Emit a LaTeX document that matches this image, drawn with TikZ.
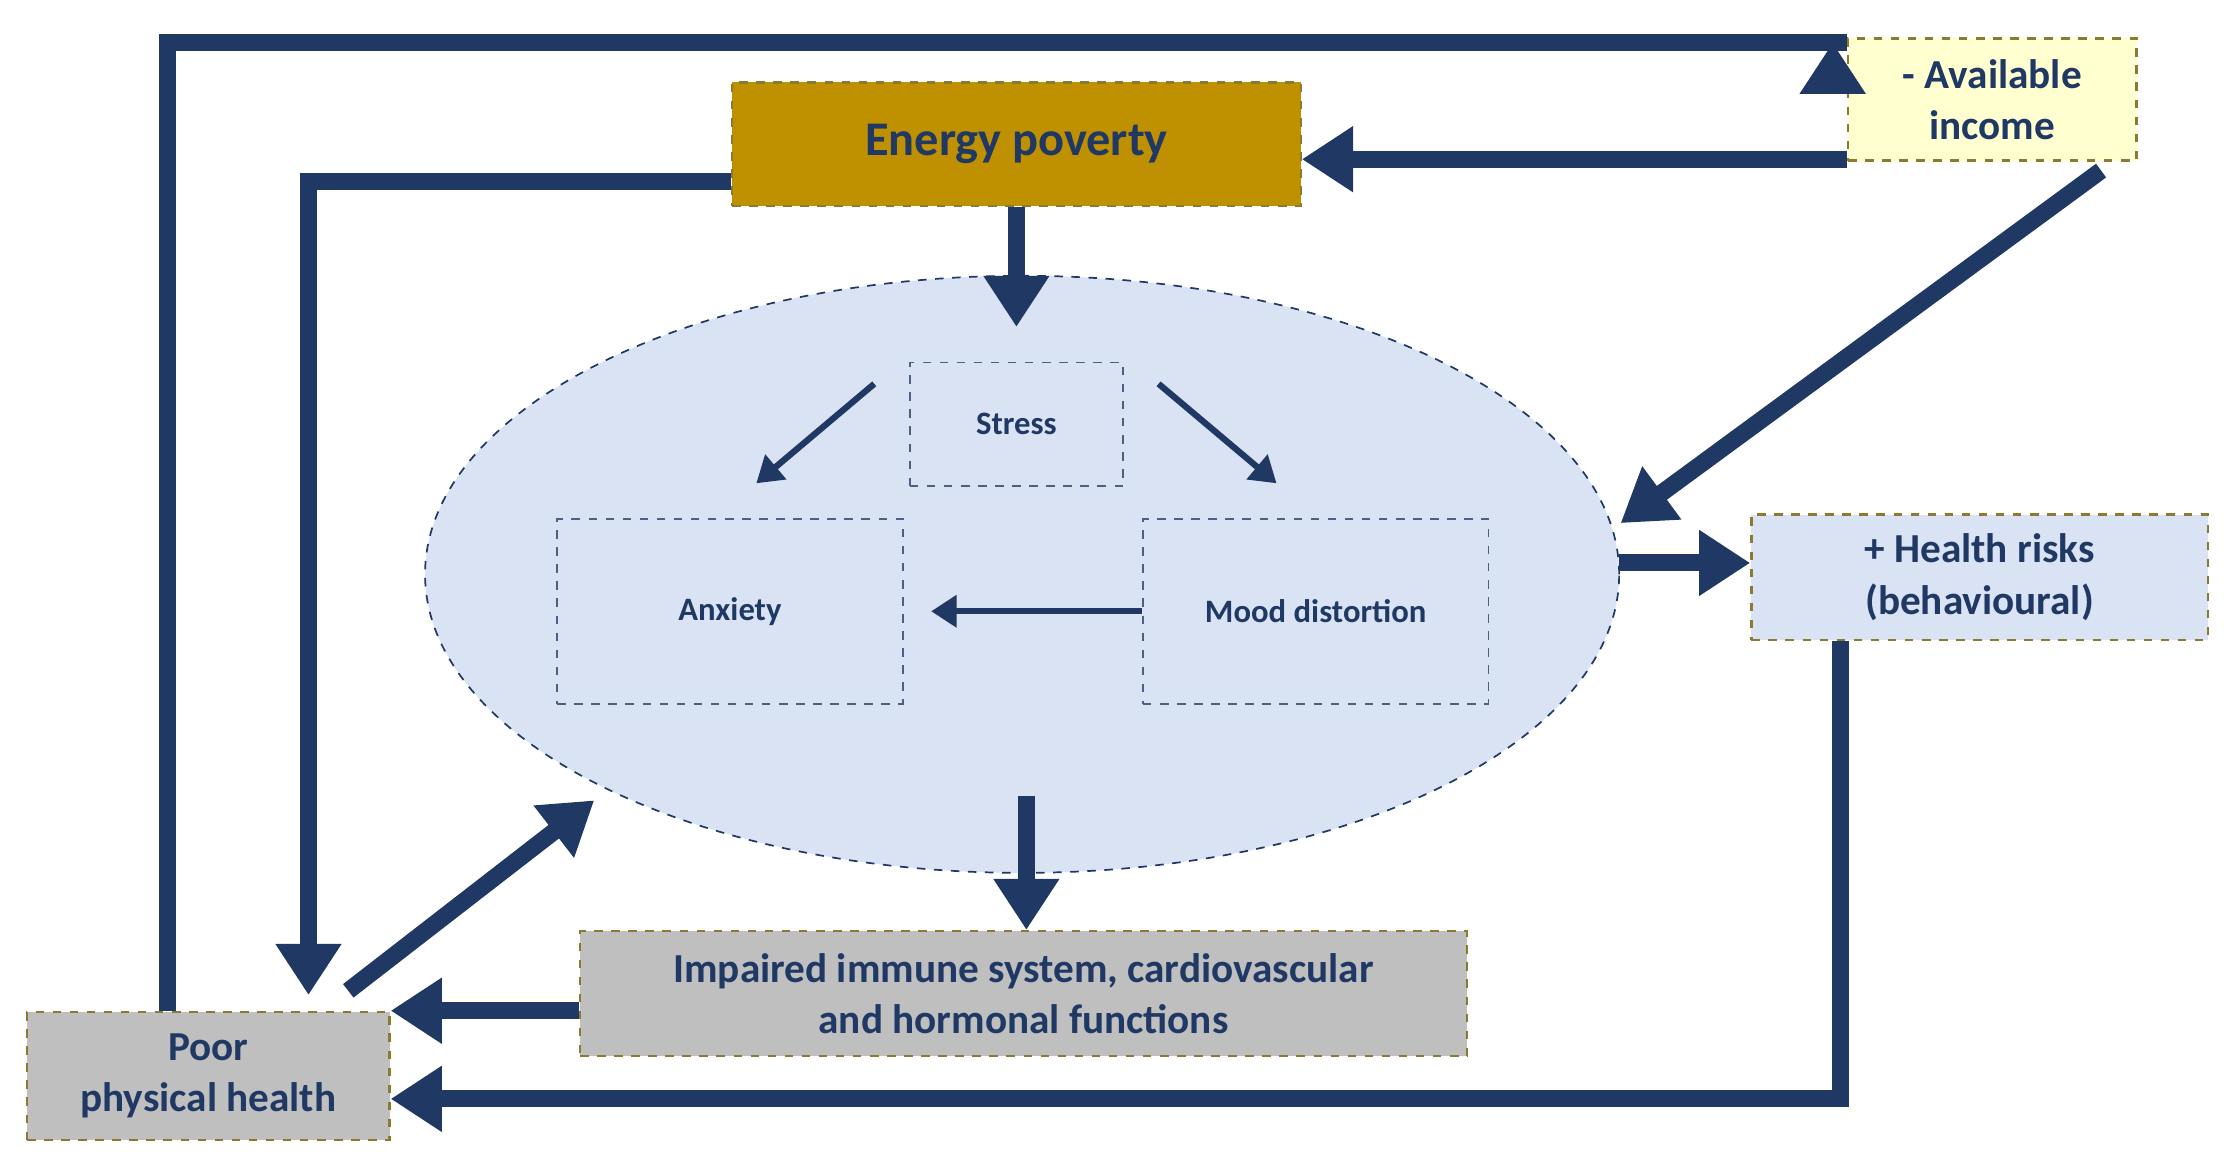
\documentclass[tikz,border=0pt]{standalone}
\usepackage{fontspec}
\setmainfont{Carlito}
\usetikzlibrary{arrows.meta,shapes.geometric}
\definecolor{navy}{HTML}{1F3864}
\definecolor{gold}{HTML}{BF9000}
\definecolor{lblue}{HTML}{DAE3F3}
\definecolor{lgray}{HTML}{BFBFBF}
\definecolor{lyel}{HTML}{FFFFD0}
\definecolor{olive}{HTML}{8C7A30}
\begin{document}
\begin{tikzpicture}[x=0.5pt,y=-0.5pt,
  box/.style={draw=olive,dashed,line width=0.8pt,font=\bfseries,text=navy,align=center,inner sep=0pt},
  inbox/.style={draw=navy!80,dashed,line width=0.6pt,font=\bfseries\fontsize{11.5}{14}\selectfont,text=navy,align=center,inner sep=0pt},
  thick arrow/.style={draw=navy,line width=6pt,-{Triangle[length=18pt,width=22pt]}},
  thin arrow/.style={draw=navy,line width=2.2pt,-{Triangle[length=9pt,width=11pt]}}]
\useasboundingbox (0,0) rectangle (1568,824);
\node[ellipse,draw=navy,dashed,line width=0.6pt,fill=lblue,minimum width=420pt,minimum height=210pt] (ell) at (719,404) {};
\node[box,fill=gold,minimum width=200pt,minimum height=43.5pt,font=\bfseries\fontsize{17}{20}\selectfont] (ep) at (715,101.5) {Energy poverty};
\node[box,fill=lyel,minimum width=101.5pt,minimum height=43pt,font=\bfseries\fontsize{14.5}{18}\selectfont] (ai) at (1401.5,70) {- Available\\income};
\node[box,fill=lblue,minimum width=160.5pt,minimum height=44pt,font=\bfseries\fontsize{14.5}{18}\selectfont] (hr) at (1392.5,406) {+ Health risks\\(behavioural)};
\node[box,fill=lgray,minimum width=312pt,minimum height=44pt,font=\bfseries\fontsize{14.5}{18}\selectfont] (im) at (720,699) {Impaired immune system, cardiovascular\\and hormonal functions};
\node[box,fill=lgray,minimum width=127.5pt,minimum height=45pt,font=\bfseries\fontsize{14.5}{18}\selectfont] (ph) at (146.5,757) {Poor\\physical health};
\node[inbox,minimum width=75pt,minimum height=43.5pt] (st) at (715,298.5) {Stress};
\node[inbox,minimum width=121.5pt,minimum height=65pt] (an) at (513.5,430) {Anxiety};
\node[inbox,minimum width=121.5pt,minimum height=65pt] (md) at (925.5,430) {Mood distortion};
\coordinate (c1) at (118,30);
\coordinate (c2) at (217,130);
\coordinate (c3) at (1295,773);
\draw[thick arrow] (ph.north -| c1) |- (ai.west |- c1) ++(-10,0);
\draw[thick arrow] (ai.west |- 0,112) -- (ep.east |- 0,112);
\draw[thick arrow] (ep.west |- 0,128) -| (217,700);
\draw[thick arrow] (ep.south) -- (715,230);
\draw[thick arrow] (1478,120) -- (1140,368);
\draw[thick arrow] (1139,396) -- (hr.west |- 0,396);
\draw[thick arrow] (hr.south -| c3) |- (ph.east |- c3);
\draw[thick arrow] (722,560) -- (im.north -| 722,0);
\draw[thick arrow] (im.west |- 0,711) -- (ph.east |- 0,711);
\draw[thick arrow] (245,697) -- (418,563);
\draw[thin arrow] (615,270) -- (532,340);
\draw[thin arrow] (815,270) -- (898,340);
\draw[thin arrow] (md.west) -- (655,430);
\end{tikzpicture}
\end{document}
